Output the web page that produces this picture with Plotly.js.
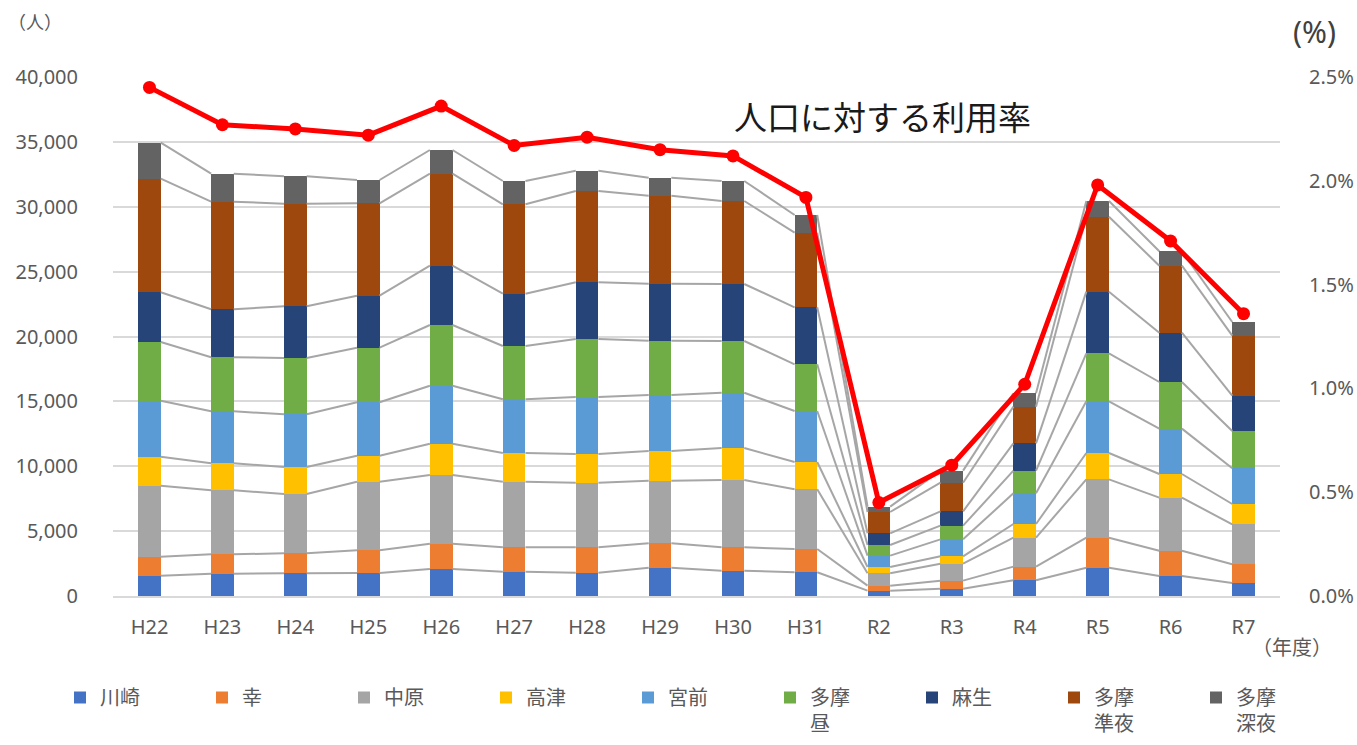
<!DOCTYPE html>
<html>
<head>
<meta charset="utf-8">
<script src="https://cdn.plot.ly/plotly-3.0.1.min.js"></script>
<style>html,body{margin:0;padding:0;background:#fff;}#chart{width:1357px;height:745px;}</style>
</head>
<body>
<div id="chart"></div>
<script>
// ---- data ----
const years = ["H22","H23","H24","H25","H26","H27","H28","H29","H30","H31","R2","R3","R4","R5","R6","R7"];
const seriesNames = ["川崎","幸","中原","高津","宮前","多摩<br>昼","麻生","多摩<br>準夜","多摩<br>深夜"];
const kawasaki   = [1565,1719,1749,1773,2081,1873,1796,2181,1950,1827, 411, 565,1208,2184,1541,1002];
const saiwai     = [1464,1495,1542,1749,1950,1880,1957,1881,1803,1795, 385, 617,1053,2312,1953,1439];
const nakahara   = [5472,4932,4570,5287,5295,5056,4979,4824,5187,4601, 951,1310,2235,4496,4085,3083];
const takatsu    = [2235,2081,2081,2004,2412,2212,2212,2289,2467,2105, 488, 565,1053,2029,1824,1567];
const miyamae    = [4316,4008,4062,4115,4470,4139,4393,4316,4261,3930, 873,1311,2364,3982,3494,2749];
const tamaDay    = [4524,4162,4339,4209,4678,4108,4470,4185,3985,3599, 823,1053,1747,3699,3596,2877];
const asao       = [3831,3699,3985,4008,4571,4031,4370,4393,4393,4393, 899,1105,2107,4753,3803,2723];
const tamaEve    = [8755,8293,7907,7121,7090,6890,7037,6783,6397,5750,1644,2206,2825,5781,5161,4624];
const tamaNight  = [2775,2158,2112,1796,1827,1796,1565,1387,1542,1364, 410, 928,1028,1207,1107,1054];
const usageRate  = [0.0245,0.0227,0.0225,0.0222,0.0236,0.0217,0.0221,0.0215,0.0212,0.0192,0.0045,0.0063,0.0102,0.0198,0.0171,0.0136];
const colors = ["#4472C4","#ED7D31","#A5A5A5","#FFC000","#5B9BD5","#70AD47","#264478","#9E480E","#636363"];

const seriesValues = [kawasaki,saiwai,nakahara,takatsu,miyamae,tamaDay,asao,tamaEve,tamaNight];
const xIdx = years.map((_, i) => i);
const barW = 0.31;
const FONT = "Noto Sans, Noto Sans CJK JP, sans-serif";
const GREY = "#595959";

const traces = [];
seriesValues.forEach((vals, k) => {
  traces.push({
    type: "bar", x: xIdx, y: vals, name: seriesNames[k], width: barW,
    marker: {color: colors[k], line: {width: 0}}, hoverinfo: "y"
  });
});

// series lines (connecting tops of each stacked segment between adjacent bars)
const cum = years.map(() => 0);
const lx = [], ly = [];
seriesValues.forEach(vals => {
  vals.forEach((v, i) => { cum[i] += v; });
  for (let i = 0; i < years.length - 1; i++) {
    lx.push(i + barW / 2, i + 1 - barW / 2, null);
    ly.push(cum[i], cum[i + 1], null);
  }
});
traces.push({
  type: "scatter", mode: "lines", x: lx, y: ly, showlegend: false, hoverinfo: "skip",
  line: {color: "#A6A6A6", width: 2}
});

traces.push({
  type: "scatter", mode: "lines+markers", x: xIdx, y: usageRate, yaxis: "y2",
  name: "人口に対する利用率", showlegend: false,
  line: {color: "#FF0000", width: 5}, marker: {color: "#FF0000", size: 13}
});

const W = 1357, H = 745;
const L = 113, R = 1280, T = 77, B = 596;
const px = p => (p - L) / (R - L);
const py = p => (B - p) / (B - T);

const layout = {
  width: W, height: H,
  margin: {l: L, r: W - R, t: T, b: H - B, pad: 0, autoexpand: false},
  paper_bgcolor: "#fff", plot_bgcolor: "#fff",
  font: {family: FONT, color: GREY, size: 20},
  barmode: "stack", bargap: 0,
  showlegend: true,
  xaxis: {
    type: "linear", range: [-0.5, years.length - 0.5],
    tickmode: "array", tickvals: xIdx, ticktext: years,
    showgrid: false, zeroline: false, showline: true, linecolor: "#D9D9D9", linewidth: 1.5,
    ticks: "outside", ticklen: 12, tickcolor: "rgba(0,0,0,0)",
    tickfont: {family: FONT, size: 20, color: GREY}
  },
  yaxis: {
    range: [0, 40000], tickmode: "array",
    tickvals: [0,5000,10000,15000,20000,25000,30000,35000,40000],
    tickformat: ",d",
    showgrid: true, gridcolor: "#D9D9D9", gridwidth: 1.5, zeroline: false,
    ticks: "outside", ticklen: 30, tickcolor: "rgba(0,0,0,0)",
    tickfont: {family: FONT, size: 20, color: GREY}
  },
  yaxis2: {
    overlaying: "y", side: "right", range: [0, 0.025],
    tickmode: "array", tickvals: [0,0.005,0.01,0.015,0.02,0.025], tickformat: ".1%",
    showgrid: false, zeroline: false,
    ticks: "outside", ticklen: 24, tickcolor: "rgba(0,0,0,0)",
    tickfont: {family: FONT, size: 20, color: GREY}
  },
  legend: {
    orientation: "h", x: px(60), xanchor: "left", y: py(678), yanchor: "top",
    entrywidth: 97, entrywidthmode: "pixels", itemwidth: 30, valign: "top",
    traceorder: "normal",
    font: {family: FONT, size: 20, color: GREY}
  },
  annotations: [
    {xref: "paper", yref: "paper", x: px(6), y: py(22), xanchor: "left", yanchor: "middle",
     text: "（人）", showarrow: false, font: {family: FONT, size: 18, color: GREY}},
    {xref: "paper", yref: "paper", x: px(1291), y: py(31), xanchor: "left", yanchor: "middle",
     text: "(%)", showarrow: false, font: {family: FONT, size: 30, color: "#404040"}},
    {xref: "paper", yref: "paper", x: px(732), y: py(117), xanchor: "left", yanchor: "middle",
     text: "人口に対する利用率", showarrow: false, font: {family: FONT, size: 33, color: "#1a1a1a"}},
    {xref: "paper", yref: "paper", x: px(1250), y: py(647), xanchor: "left", yanchor: "middle",
     text: "（年度）", showarrow: false, font: {family: FONT, size: 20, color: GREY}}
  ]
};

Plotly.newPlot("chart", traces, layout, {displayModeBar: false, responsive: false});
</script>
</body>
</html>
